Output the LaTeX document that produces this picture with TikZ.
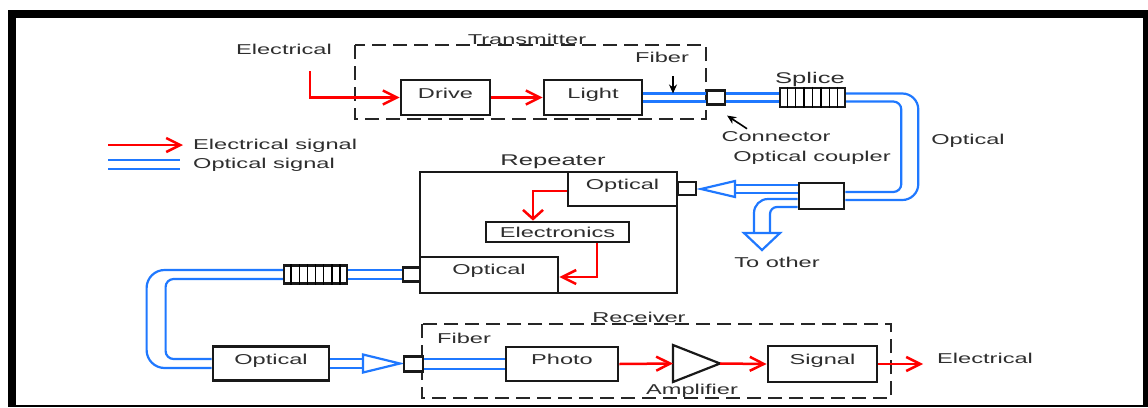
\documentclass[tikz,border=0pt]{standalone}
\usepackage{fontspec}
\setmainfont{Liberation Sans}[FakeStretch=1.65]
\usetikzlibrary{arrows.meta,positioning,calc}
\definecolor{FOBlue}{HTML}{1F78FF}
\definecolor{FORed}{HTML}{FF0000}
\definecolor{FOText}{HTML}{2E2E2E}
\tikzset{blk/.style={draw=black!90,line width=2.8pt,fill=white,inner sep=0pt,text=FOText,text height=10pt,text depth=9pt},
 dbox/.style={draw=black!85,line width=2.6pt,dash pattern=on 14pt off 7pt},
 conn/.style={draw=black!90,line width=2.2pt,fill=white,inner sep=0pt},
 lbl/.style={text=FOText,inner sep=0pt},
 biglbl/.style={lbl,font=\fontsize{15.5}{18}\selectfont},
 elec/.style={draw=FORed,line width=2.5pt,-{Straight Barb[length=14pt,width=14pt]}},
 elecv/.style={draw=FORed,line width=2.5pt,-{Straight Barb[length=9pt,width=20pt]}},
 fib/.style={draw=FOBlue,line width=2.2pt},
 ptr/.style={draw=black,line width=1.6pt,-{Stealth[length=9pt,width=8pt]}}}

\begin{document}
\begin{tikzpicture}[x=1pt,y=-1pt,font=\fontsize{14.3}{16}\selectfont]
\useasboundingbox (0,0) rectangle (1148,407);
\fill[black] (8,10) rectangle (1148,407);
\fill[white] (16,18) rectangle (1143,405);

% legend
\coordinate (lgA) at (108,145); \coordinate (lgB) at (183,145);
\coordinate (lgC) at (108,160); \coordinate (lgD) at (180,160);
\draw[elec] (lgA) -- (lgB);
\draw[fib] (lgC) -- (lgD); \draw[fib] ([yshift=-9]lgC) -- ([yshift=-9]lgD);
\node[lbl,anchor=west] (lgEl) at (193,146) {Electrical signal};
\node[lbl,anchor=west] (lgOp) at (193,165) {Optical signal};

% transmitter
\draw[dbox] (355,45) rectangle (706,119);
\node[lbl,anchor=base] (txT) at (527,44) {Transmitter};
\node[lbl] (elIn) at (284,49) {Electrical};
\coordinate (inE) at (310,71);
\node[blk,minimum width=89,minimum height=35] (drive) at (445.5,97.5) {Drive};
\node[blk,minimum width=98,minimum height=35] (light) at (593,97.5) {Light};
\node[conn,minimum width=18,minimum height=14] (cn1) at (716,97.5) {};
\node[conn,minimum width=65,minimum height=19] (spl1) at (812.5,97.5) {};
\foreach \k in {1,...,7}
  \draw[line width=1.4pt] ($(spl1.north west)!\k/8!(spl1.north east)$) -- ($(spl1.south west)!\k/8!(spl1.south east)$);
\draw[elec] (inE) |- (drive.west);
\draw[elec] (drive) -- (light);
\draw[fib] ([yshift=4]light.east) -- ([yshift=4]cn1.west);
\draw[fib] ([yshift=-4]light.east) -- ([yshift=-4]cn1.west);
\draw[fib] ([yshift=4]cn1.east) -- ([yshift=4]spl1.west);
\draw[fib] ([yshift=-4]cn1.east) -- ([yshift=-4]spl1.west);
\node[lbl] (fibT) at (662,57) {Fiber};
\draw[ptr] ([xshift=11,yshift=-14]fibT.south) -- ([xshift=11,yshift=-31]fibT.south);
\node[biglbl] (splT) at (810,79) {Splice};
\node[lbl] (cnT) at (776,137) {Connector};
\draw[ptr] ([xshift=-29,yshift=3]cnT.north) -- ([xshift=1,yshift=-10]cn1.south east);

% coupler
\node[conn,line width=2.6pt,minimum width=45,minimum height=26] (cpl) at (821.5,196) {};
\draw[fib,rounded corners=16] ([yshift=4]spl1.east) -| ([xshift=73,yshift=-4]cpl.east) -- ([yshift=-4]cpl.east);
\draw[fib,rounded corners=8] ([yshift=-4]spl1.east) -| ([xshift=56,yshift=4]cpl.east) -- ([yshift=4]cpl.east);
\node[lbl] (optR) at (968,141) {Optical};
\node[lbl] (cplT) at (812,158) {Optical coupler};
\coordinate (hAb) at (735,189); \coordinate (hA) at (701,189);
\draw[fib] ([yshift=11]cpl.west) -- ([yshift=4]hAb);
\draw[fib] ([yshift=3]cpl.west) -- ([yshift=-4]hAb);
\draw[fib,fill=white] (hA) -- ([yshift=8]hAb) -- ([yshift=-8]hAb) -- cycle;
\coordinate (hBb) at (762,233); \coordinate (hB) at (762,250);
\draw[fib,rounded corners=14] ([yshift=-3]cpl.west) -| ([xshift=-8]hBb);
\draw[fib,rounded corners=7] ([yshift=-11]cpl.west) -| ([xshift=8]hBb);
\draw[fib,fill=white] (hB) -- ([xshift=-18]hBb) -- ([xshift=18]hBb) -- cycle;
\node[lbl] (toT) at (777,262) {To other};

% repeater
\node[blk,minimum width=257,minimum height=121] (rep) at (548.5,232.5) {};
\node[biglbl] (repT) at (553,162) {Repeater};
\node[blk,minimum width=109,minimum height=34] (optA) at (622.5,189) {Optical};
\node[blk,text depth=0pt,minimum width=143,minimum height=20] (elx) at (557.5,232) {Electronics};
\node[blk,text depth=11pt,minimum width=138,minimum height=36] (optB) at (489,275) {Optical};
\node[conn,minimum width=18,minimum height=13] (rcR) at (687,188.5) {};
\node[conn,minimum width=17,minimum height=14] (rcL) at (411.5,274.5) {};
\draw[elecv] ([yshift=-2]optA.west) -| ([xshift=-24.5]elx.north);
\draw[elec] ([xshift=39.5]elx.south) |- ([yshift=-2]optB.east);

% lower fiber
\node[conn,minimum width=63,minimum height=18] (spl2) at (315.5,274.5) {};
\foreach \k in {1,...,7}
  \draw[line width=1.4pt] ($(spl2.north west)!\k/8!(spl2.north east)$) -- ($(spl2.south west)!\k/8!(spl2.south east)$);
\draw[fib] ([yshift=4.5]rcL.west) -- ([yshift=4.5]spl2.east);
\draw[fib] ([yshift=-4.5]rcL.west) -- ([yshift=-4.5]spl2.east);
\node[blk,minimum width=116,minimum height=34] (optC) at (271,363.5) {Optical};
\draw[fib,rounded corners=18] ([yshift=4.5]spl2.west) -| ([xshift=-65,yshift=-4.5]optC.west) -- ([yshift=-4.5]optC.west);
\draw[fib,rounded corners=8] ([yshift=-4.5]spl2.west) -| ([xshift=-46,yshift=4.5]optC.west) -- ([yshift=4.5]optC.west);
\coordinate (hCb) at (363,363.5); \coordinate (hC) at (400,363.5);
\draw[fib] ([yshift=4.5]optC.east) -- ([yshift=4.5]hCb);
\draw[fib] ([yshift=-4.5]optC.east) -- ([yshift=-4.5]hCb);
\draw[fib,fill=white] (hC) -- ([yshift=9]hCb) -- ([yshift=-9]hCb) -- cycle;

% receiver
\draw[dbox] (422,324) rectangle (891,398);
\node[lbl,anchor=base] (rxT) at (639,322) {Receiver};
\node[conn,minimum width=19,minimum height=15] (rcC) at (413.5,364) {};
\node[lbl] (fibR) at (464,338) {Fiber};
\node[blk,minimum width=112,minimum height=34] (photo) at (562,364) {Photo};
\coordinate (amp) at (696.5,363.5);
\draw[black!90,line width=2.2pt,fill=white] ([xshift=-23.5,yshift=18.5]amp) -- ([xshift=23.5]amp) -- ([xshift=-23.5,yshift=-18.5]amp) -- cycle;
\node[lbl] (ampT) at (692,391) {Amplifier};
\node[blk,minimum width=109,minimum height=36] (signal) at (822.5,364) {Signal};
\coordinate (outE) at (923,364);
\node[lbl,anchor=west] (elOut) at (937,358) {Electrical};
\draw[fib] ([yshift=5]rcC.east) -- ([yshift=5]photo.west);
\draw[fib] ([yshift=-5]rcC.east) -- ([yshift=-5]photo.west);
\draw[elec] (photo.east) -- ([xshift=-23.5]amp);
\draw[elec] ([xshift=23.5]amp) -- (signal.west);
\draw[elec] (signal.east) -- (outE);
\end{tikzpicture}
\end{document}
